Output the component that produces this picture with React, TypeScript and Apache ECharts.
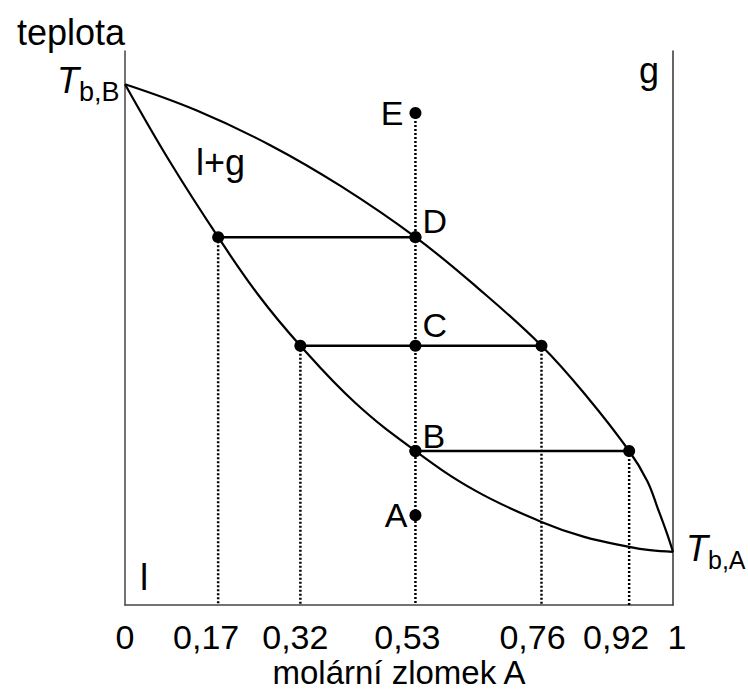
import React, { useEffect, useRef } from "react";
import * as echarts from "echarts";

// ---- data ----
const xTicks = [0, 0.17, 0.32, 0.53, 0.76, 0.92, 1];

// liquid (boiling) curve
const liquidX = [0, 0.082, 0.17, 0.243, 0.32, 0.42, 0.53, 0.64, 0.76, 0.838, 0.92, 0.958, 1];
const liquidT = [94.0, 80.0, 66.4, 56.0, 46.8, 36.5, 27.8, 20.6, 15.0, 12.3, 10.5, 9.9, 9.6];

// vapour (dew) curve
const vaporX = [0, 0.13, 0.265, 0.394, 0.53, 0.644, 0.76, 0.843, 0.92, 0.953, 0.972, 0.988, 1];
const vaporT = [94.0, 89.3, 83.0, 75.6, 66.4, 57.2, 46.8, 37.6, 27.8, 22.4, 17.5, 13.2, 9.6];

// tie lines
const tieLeftX = [0.17, 0.32, 0.53];
const tieRightX = [0.53, 0.76, 0.92];
const tieT = [66.4, 46.8, 27.8];

// labelled states at x = 0.53
const stateNames = ["E", "D", "C", "B", "A"];
const stateX = [0.53, 0.53, 0.53, 0.53, 0.53];
const stateT = [88.8, 66.4, 46.8, 27.8, 16.2];

// ---- styles ----
const FONT = '"Liberation Sans", Arial, Helvetica, sans-serif';
const tickShift = [0, 12, 5, 8, 9, 13, -4];
const stateLabelStyle: Record<string, any> = {
  E: { position: "left", distance: 6, offset: [0, 0] },
  D: { position: "right", distance: 1, offset: [0, -16] },
  C: { position: "right", distance: 1, offset: [0, -21] },
  B: { position: "right", distance: 1, offset: [0, -15] },
  A: { position: "left", distance: 2, offset: [0, 0] },
};

function tbLabel(x: number, y: number, sub: string, subSize: number) {
  return {
    type: "text",
    x,
    y,
    style: {
      text: "{T|T}{s|" + sub + "}",
      fontFamily: FONT,
      fill: "#000",
      align: "left",
      verticalAlign: "middle",
      rich: {
        T: { fontSize: 36, fontStyle: "italic", fontFamily: FONT, fill: "#000" },
        s: { fontSize: subSize, fontFamily: FONT, fill: "#000", padding: [24, 0, 0, 0] },
      },
    },
  };
}

function buildOption(): any {
  const series: any[] = [];

  // dotted verticals: from each tie-line end (except those on the E line) and from E
  const dropX: number[] = [];
  const dropTop: number[] = [];
  const addDrop = (x: number, t: number) => {
    if (Math.abs(x - stateX[0]) < 1e-9) return;
    dropX.push(x);
    dropTop.push(t);
  };
  tieLeftX.forEach((x, i) => addDrop(x, tieT[i]));
  tieRightX.forEach((x, i) => addDrop(x, tieT[i]));
  dropX.push(stateX[0]);
  dropTop.push(stateT[0]);
  dropX.forEach((x, i) => {
    series.push({
      type: "line",
      data: [
        [x, dropTop[i]],
        [x, 0],
      ],
      symbol: "none",
      lineStyle: { color: "#000", width: 2.5, type: [2, 2] },
      z: 1,
      silent: true,
    });
  });

  series.push({
    type: "line",
    name: "liquid",
    data: liquidX.map((x, i) => [x, liquidT[i]]),
    smooth: 0.4,
    symbol: "none",
    lineStyle: { color: "#000", width: 2.2 },
    z: 2,
  });
  series.push({
    type: "line",
    name: "vapour",
    data: vaporX.map((x, i) => [x, vaporT[i]]),
    smooth: 0.4,
    symbol: "none",
    lineStyle: { color: "#000", width: 2.2 },
    z: 2,
  });

  tieT.forEach((t, i) => {
    series.push({
      type: "line",
      data: [
        [tieLeftX[i], t],
        [tieRightX[i], t],
      ],
      symbol: "none",
      lineStyle: { color: "#000", width: 2.5 },
      z: 2,
    });
  });

  // endpoints of tie lines
  const endPts: number[][] = [];
  tieT.forEach((t, i) => {
    endPts.push([tieLeftX[i], t]);
    endPts.push([tieRightX[i], t]);
  });
  series.push({
    type: "scatter",
    data: endPts,
    symbolSize: 12,
    itemStyle: { color: "#000", opacity: 1 },
    z: 5,
  });

  series.push({
    type: "scatter",
    data: stateNames.map((n, i) => {
      const st = stateLabelStyle[n];
      return {
        value: [stateX[i], stateT[i]],
        name: n,
        label: {
          show: true,
          formatter: n,
          position: st.position,
          distance: st.distance,
          offset: st.offset,
          fontSize: 34,
          fontFamily: FONT,
          color: "#000",
        },
      };
    }),
    symbolSize: 12,
    itemStyle: { color: "#000", opacity: 1 },
    z: 6,
  });

  const rich: Record<string, any> = {};
  tickShift.forEach((s, i) => {
    rich["t" + i] = {
      fontSize: 34,
      fontFamily: FONT,
      color: "#000",
      padding: s >= 0 ? [0, 2 * s, 0, 0] : [0, 0, 0, -2 * s],
    };
  });

  return {
    animation: false,
    backgroundColor: "#fff",
    grid: { left: 125, right: 75, top: 51, bottom: 84, outerBoundsMode: "none", containLabel: false },
    xAxis: {
      type: "value",
      min: 0,
      max: 1,
      splitLine: { show: false },
      axisTick: { show: false },
      axisLine: { show: true, onZero: false, lineStyle: { color: "#444", width: 1.5 } },
      axisLabel: {
        customValues: xTicks,
        showMinLabel: true,
        showMaxLabel: true,
        margin: 15,
        fontSize: 34,
        fontFamily: FONT,
        color: "#000",
        rich,
        formatter: (v: number) => {
          let idx = 0;
          xTicks.forEach((t, i) => {
            if (Math.abs(t - v) < 1e-6) idx = i;
          });
          return "{t" + idx + "|" + String(xTicks[idx]).replace(".", ",") + "}";
        },
      },
      name: "molární zlomek A",
      nameLocation: "middle",
      nameGap: 67,
      nameMoveOverlap: false,
      nameTextStyle: {
        fontSize: 33,
        fontFamily: FONT,
        color: "#000",
        lineHeight: 30,
        verticalAlign: "middle",
      },
    },
    yAxis: [
      {
        type: "value",
        min: 0,
        max: 100,
        position: "left",
        splitLine: { show: false },
        axisTick: { show: false },
        axisLabel: { show: false },
        axisLine: { show: true, onZero: false, lineStyle: { color: "#444", width: 1.5 } },
        name: "teplota",
        nameLocation: "end",
        nameGap: 19,
        nameMoveOverlap: false,
        nameTextStyle: {
          fontSize: 36,
          fontFamily: FONT,
          color: "#000",
          align: "right",
          verticalAlign: "middle",
        },
      },
      {
        type: "value",
        min: 0,
        max: 100,
        position: "right",
        splitLine: { show: false },
        axisTick: { show: false },
        axisLabel: { show: false },
        axisLine: { show: true, onZero: false, lineStyle: { color: "#333", width: 1.5 } },
      },
    ],
    graphic: [
      { type: "text", x: 140, y: 577, style: { text: "l", fontSize: 37, fontFamily: FONT, fill: "#000", verticalAlign: "middle", align: "left" } },
      { type: "text", x: 639, y: 70, style: { text: "g", fontSize: 36, fontFamily: FONT, fill: "#000", verticalAlign: "middle", align: "left" } },
      { type: "text", x: 196, y: 162, style: { text: "l+g", fontSize: 36, fontFamily: FONT, fill: "#000", verticalAlign: "middle", align: "left" } },
      tbLabel(57, 80, "b,B", 27),
      tbLabel(686, 548, "b,A", 25),
    ],
    series,
  };
}

export default function App() {
  const ref = useRef<HTMLDivElement>(null);
  useEffect(() => {
    if (!ref.current) return;
    const chart = echarts.init(ref.current, undefined, { renderer: "svg" });
    chart.setOption(buildOption());
    return () => chart.dispose();
  }, []);
  return (
    <div
      ref={ref}
      style={{ width: 748, height: 689, position: "absolute", left: 0, top: 0, background: "#fff" }}
    />
  );
}
